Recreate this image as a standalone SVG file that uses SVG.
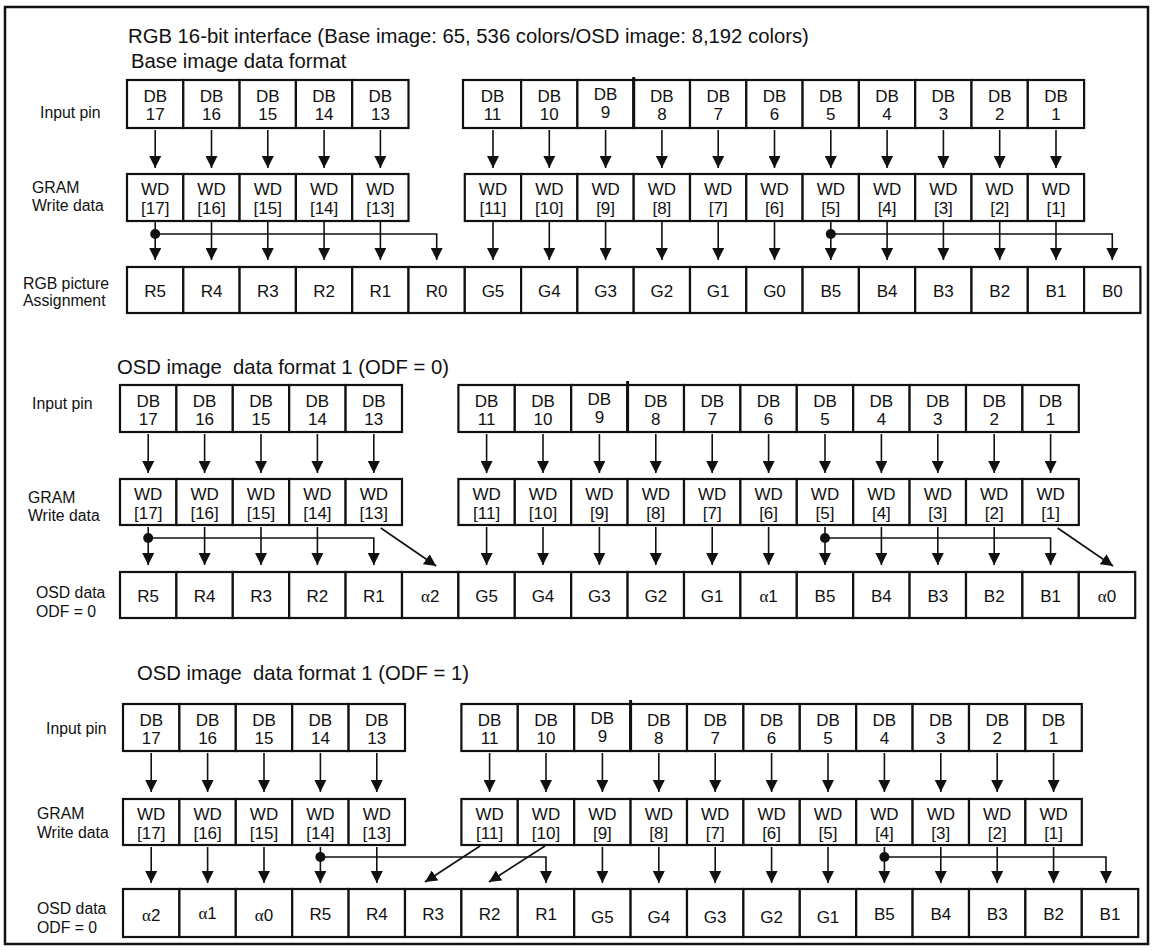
<svg xmlns="http://www.w3.org/2000/svg" width="1155" height="950" viewBox="0 0 1155 950">
<style>
text{font-family:"Liberation Sans",Arial,sans-serif;fill:#111}
.ttl{font-size:20.3px}
.lbl{font-size:15.8px}
.cell rect{fill:#fff;stroke:#111;stroke-width:2.2}
.cell text{font-size:17px;text-anchor:middle}
.a{font-family:"Liberation Serif","Times New Roman",serif}
.ar{fill:none;stroke:#111;stroke-width:1.6;marker-end:url(#ah)}
.dot{fill:#111}
.thk{stroke:#111;stroke-width:3}
</style>
<defs>
<marker id="ah" markerUnits="userSpaceOnUse" viewBox="0 0 12 12" markerWidth="12" markerHeight="12" refX="12" refY="6" orient="auto"><path d="M0,0 L12,6 L0,12 z" fill="#111"/></marker>
</defs>
<rect x="5" y="7" width="1143" height="937" fill="#fff" stroke="#111" stroke-width="2.5"/>

<g id="titles">
<text class="ttl" x="128" y="43">RGB 16-bit interface (Base image: 65, 536 colors/OSD image: 8,192 colors)</text>
<text class="ttl" x="131" y="68">Base image data format</text>
<text class="ttl" x="117" y="374" xml:space="preserve">OSD image  data format 1 (ODF = 0)</text>
<text class="ttl" x="137" y="680" xml:space="preserve">OSD image  data format 1 (ODF = 1)</text>
</g>
<g id="labels">
<text class="lbl" x="40" y="118">Input pin</text>
<text class="lbl" x="32" y="193">GRAM</text>
<text class="lbl" x="32" y="211">Write data</text>
<text class="lbl" x="23" y="289">RGB picture</text>
<text class="lbl" x="23" y="306">Assignment</text>
<text class="lbl" x="32" y="409">Input pin</text>
<text class="lbl" x="28" y="503">GRAM</text>
<text class="lbl" x="28" y="521">Write data</text>
<text class="lbl" x="36" y="598">OSD data</text>
<text class="lbl" x="36" y="617">ODF = 0</text>
<text class="lbl" x="46" y="734">Input pin</text>
<text class="lbl" x="37" y="819">GRAM</text>
<text class="lbl" x="37" y="838">Write data</text>
<text class="lbl" x="37" y="914">OSD data</text>
<text class="lbl" x="37" y="933">ODF = 0</text>
</g>

<!-- Section 1 -->
<g id="s1-input" class="cell">
<g id="s1-db17" transform="translate(127,80)"><rect width="56.3" height="48"/><text x="28.2" y="22">DB<tspan x="28.2" y="40">17</tspan></text></g>
<g id="s1-db16" transform="translate(183.3,80)"><rect width="56.3" height="48"/><text x="28.2" y="22">DB<tspan x="28.2" y="40">16</tspan></text></g>
<g id="s1-db15" transform="translate(239.6,80)"><rect width="56.3" height="48"/><text x="28.2" y="22">DB<tspan x="28.2" y="40">15</tspan></text></g>
<g id="s1-db14" transform="translate(295.9,80)"><rect width="56.3" height="48"/><text x="28.2" y="22">DB<tspan x="28.2" y="40">14</tspan></text></g>
<g id="s1-db13" transform="translate(352.2,80)"><rect width="56.3" height="48"/><text x="28.2" y="22">DB<tspan x="28.2" y="40">13</tspan></text></g>
<g id="s1-db11" transform="translate(463,80)"><rect width="58.1" height="48"/><text x="29.5" y="22">DB<tspan x="29.5" y="40">11</tspan></text></g>
<g id="s1-db10" transform="translate(521.1,80)"><rect width="56.3" height="48"/><text x="28.2" y="22">DB<tspan x="28.2" y="40">10</tspan></text></g>
<g id="s1-db9" transform="translate(577.4,80)"><rect width="56.3" height="48"/><text x="28.2" y="20">DB<tspan x="28.2" y="38">9</tspan></text></g>
<g id="s1-db8" transform="translate(633.7,80)"><rect width="56.3" height="48"/><text x="28.2" y="22">DB<tspan x="28.2" y="40">8</tspan></text></g>
<g id="s1-db7" transform="translate(690,80)"><rect width="56.3" height="48"/><text x="28.2" y="22">DB<tspan x="28.2" y="40">7</tspan></text></g>
<g id="s1-db6" transform="translate(746.3,80)"><rect width="56.3" height="48"/><text x="28.2" y="22">DB<tspan x="28.2" y="40">6</tspan></text></g>
<g id="s1-db5" transform="translate(802.6,80)"><rect width="56.3" height="48"/><text x="28.2" y="22">DB<tspan x="28.2" y="40">5</tspan></text></g>
<g id="s1-db4" transform="translate(858.9,80)"><rect width="56.3" height="48"/><text x="28.2" y="22">DB<tspan x="28.2" y="40">4</tspan></text></g>
<g id="s1-db3" transform="translate(915.2,80)"><rect width="56.3" height="48"/><text x="28.2" y="22">DB<tspan x="28.2" y="40">3</tspan></text></g>
<g id="s1-db2" transform="translate(971.5,80)"><rect width="56.3" height="48"/><text x="28.2" y="22">DB<tspan x="28.2" y="40">2</tspan></text></g>
<g id="s1-db1" transform="translate(1027.8,80)"><rect width="56.3" height="48"/><text x="28.2" y="22">DB<tspan x="28.2" y="40">1</tspan></text></g>
<line class="thk" x1="633.7" y1="77" x2="633.7" y2="128"/>
</g>
<g id="s1-gram" class="cell">
<g id="s1-wd17" transform="translate(127,174)"><rect width="56.3" height="47"/><text x="28.2" y="21">WD<tspan x="28.2" y="40">[17]</tspan></text></g>
<g id="s1-wd16" transform="translate(183.3,174)"><rect width="56.3" height="47"/><text x="28.2" y="21">WD<tspan x="28.2" y="40">[16]</tspan></text></g>
<g id="s1-wd15" transform="translate(239.6,174)"><rect width="56.3" height="47"/><text x="28.2" y="21">WD<tspan x="28.2" y="40">[15]</tspan></text></g>
<g id="s1-wd14" transform="translate(295.9,174)"><rect width="56.3" height="47"/><text x="28.2" y="21">WD<tspan x="28.2" y="40">[14]</tspan></text></g>
<g id="s1-wd13" transform="translate(352.2,174)"><rect width="56.3" height="47"/><text x="28.2" y="21">WD<tspan x="28.2" y="40">[13]</tspan></text></g>
<g id="s1-wd11" transform="translate(464.8,174)"><rect width="56.3" height="47"/><text x="28.2" y="21">WD<tspan x="28.2" y="40">[11]</tspan></text></g>
<g id="s1-wd10" transform="translate(521.1,174)"><rect width="56.3" height="47"/><text x="28.2" y="21">WD<tspan x="28.2" y="40">[10]</tspan></text></g>
<g id="s1-wd9" transform="translate(577.4,174)"><rect width="56.3" height="47"/><text x="28.2" y="21">WD<tspan x="28.2" y="40">[9]</tspan></text></g>
<g id="s1-wd8" transform="translate(633.7,174)"><rect width="56.3" height="47"/><text x="28.2" y="21">WD<tspan x="28.2" y="40">[8]</tspan></text></g>
<g id="s1-wd7" transform="translate(690,174)"><rect width="56.3" height="47"/><text x="28.2" y="21">WD<tspan x="28.2" y="40">[7]</tspan></text></g>
<g id="s1-wd6" transform="translate(746.3,174)"><rect width="56.3" height="47"/><text x="28.2" y="21">WD<tspan x="28.2" y="40">[6]</tspan></text></g>
<g id="s1-wd5" transform="translate(802.6,174)"><rect width="56.3" height="47"/><text x="28.2" y="21">WD<tspan x="28.2" y="40">[5]</tspan></text></g>
<g id="s1-wd4" transform="translate(858.9,174)"><rect width="56.3" height="47"/><text x="28.2" y="21">WD<tspan x="28.2" y="40">[4]</tspan></text></g>
<g id="s1-wd3" transform="translate(915.2,174)"><rect width="56.3" height="47"/><text x="28.2" y="21">WD<tspan x="28.2" y="40">[3]</tspan></text></g>
<g id="s1-wd2" transform="translate(971.5,174)"><rect width="56.3" height="47"/><text x="28.2" y="21">WD<tspan x="28.2" y="40">[2]</tspan></text></g>
<g id="s1-wd1" transform="translate(1027.8,174)"><rect width="56.3" height="47"/><text x="28.2" y="21">WD<tspan x="28.2" y="40">[1]</tspan></text></g>
</g>
<g id="s1-rgb" class="cell">
<g id="s1-r5" transform="translate(127,267)"><rect width="56.3" height="46"/><text x="28.2" y="30">R5</text></g>
<g id="s1-r4" transform="translate(183.3,267)"><rect width="56.3" height="46"/><text x="28.2" y="30">R4</text></g>
<g id="s1-r3" transform="translate(239.6,267)"><rect width="56.3" height="46"/><text x="28.2" y="30">R3</text></g>
<g id="s1-r2" transform="translate(295.9,267)"><rect width="56.3" height="46"/><text x="28.2" y="30">R2</text></g>
<g id="s1-r1" transform="translate(352.2,267)"><rect width="56.3" height="46"/><text x="28.2" y="30">R1</text></g>
<g id="s1-r0" transform="translate(408.5,267)"><rect width="56.3" height="46"/><text x="28.2" y="30">R0</text></g>
<g id="s1-g5" transform="translate(464.8,267)"><rect width="56.3" height="46"/><text x="28.2" y="30">G5</text></g>
<g id="s1-g4" transform="translate(521.1,267)"><rect width="56.3" height="46"/><text x="28.2" y="30">G4</text></g>
<g id="s1-g3" transform="translate(577.4,267)"><rect width="56.3" height="46"/><text x="28.2" y="30">G3</text></g>
<g id="s1-g2" transform="translate(633.7,267)"><rect width="56.3" height="46"/><text x="28.2" y="30">G2</text></g>
<g id="s1-g1" transform="translate(690,267)"><rect width="56.3" height="46"/><text x="28.2" y="30">G1</text></g>
<g id="s1-g0" transform="translate(746.3,267)"><rect width="56.3" height="46"/><text x="28.2" y="30">G0</text></g>
<g id="s1-b5" transform="translate(802.6,267)"><rect width="56.3" height="46"/><text x="28.2" y="30">B5</text></g>
<g id="s1-b4" transform="translate(858.9,267)"><rect width="56.3" height="46"/><text x="28.2" y="30">B4</text></g>
<g id="s1-b3" transform="translate(915.2,267)"><rect width="56.3" height="46"/><text x="28.2" y="30">B3</text></g>
<g id="s1-b2" transform="translate(971.5,267)"><rect width="56.3" height="46"/><text x="28.2" y="30">B2</text></g>
<g id="s1-b1" transform="translate(1027.8,267)"><rect width="56.3" height="46"/><text x="28.2" y="30">B1</text></g>
<g id="s1-b0" transform="translate(1084.1,267)"><rect width="56.3" height="46"/><text x="28.2" y="30">B0</text></g>
</g>

<!-- Section 2 -->
<g id="s2-input" class="cell">
<g id="s2-db17" transform="translate(120,385)"><rect width="56.4" height="47"/><text x="28.2" y="22">DB<tspan x="28.2" y="40">17</tspan></text></g>
<g id="s2-db16" transform="translate(176.4,385)"><rect width="56.4" height="47"/><text x="28.2" y="22">DB<tspan x="28.2" y="40">16</tspan></text></g>
<g id="s2-db15" transform="translate(232.8,385)"><rect width="56.4" height="47"/><text x="28.2" y="22">DB<tspan x="28.2" y="40">15</tspan></text></g>
<g id="s2-db14" transform="translate(289.2,385)"><rect width="56.4" height="47"/><text x="28.2" y="22">DB<tspan x="28.2" y="40">14</tspan></text></g>
<g id="s2-db13" transform="translate(345.6,385)"><rect width="56.4" height="47"/><text x="28.2" y="22">DB<tspan x="28.2" y="40">13</tspan></text></g>
<g id="s2-db11" transform="translate(458.4,385)"><rect width="56.4" height="47"/><text x="28.2" y="22">DB<tspan x="28.2" y="40">11</tspan></text></g>
<g id="s2-db10" transform="translate(514.8,385)"><rect width="56.4" height="47"/><text x="28.2" y="22">DB<tspan x="28.2" y="40">10</tspan></text></g>
<g id="s2-db9" transform="translate(571.2,385)"><rect width="56.4" height="47"/><text x="28.2" y="20">DB<tspan x="28.2" y="38">9</tspan></text></g>
<g id="s2-db8" transform="translate(627.6,385)"><rect width="56.4" height="47"/><text x="28.2" y="22">DB<tspan x="28.2" y="40">8</tspan></text></g>
<g id="s2-db7" transform="translate(684,385)"><rect width="56.4" height="47"/><text x="28.2" y="22">DB<tspan x="28.2" y="40">7</tspan></text></g>
<g id="s2-db6" transform="translate(740.4,385)"><rect width="56.4" height="47"/><text x="28.2" y="22">DB<tspan x="28.2" y="40">6</tspan></text></g>
<g id="s2-db5" transform="translate(796.8,385)"><rect width="56.4" height="47"/><text x="28.2" y="22">DB<tspan x="28.2" y="40">5</tspan></text></g>
<g id="s2-db4" transform="translate(853.2,385)"><rect width="56.4" height="47"/><text x="28.2" y="22">DB<tspan x="28.2" y="40">4</tspan></text></g>
<g id="s2-db3" transform="translate(909.6,385)"><rect width="56.4" height="47"/><text x="28.2" y="22">DB<tspan x="28.2" y="40">3</tspan></text></g>
<g id="s2-db2" transform="translate(966,385)"><rect width="56.4" height="47"/><text x="28.2" y="22">DB<tspan x="28.2" y="40">2</tspan></text></g>
<g id="s2-db1" transform="translate(1022.4,385)"><rect width="56.4" height="47"/><text x="28.2" y="22">DB<tspan x="28.2" y="40">1</tspan></text></g>
<line class="thk" x1="627.6" y1="381" x2="627.6" y2="432"/>
</g>
<g id="s2-gram" class="cell">
<g id="s2-wd17" transform="translate(120,479)"><rect width="56.4" height="46"/><text x="28.2" y="21">WD<tspan x="28.2" y="40">[17]</tspan></text></g>
<g id="s2-wd16" transform="translate(176.4,479)"><rect width="56.4" height="46"/><text x="28.2" y="21">WD<tspan x="28.2" y="40">[16]</tspan></text></g>
<g id="s2-wd15" transform="translate(232.8,479)"><rect width="56.4" height="46"/><text x="28.2" y="21">WD<tspan x="28.2" y="40">[15]</tspan></text></g>
<g id="s2-wd14" transform="translate(289.2,479)"><rect width="56.4" height="46"/><text x="28.2" y="21">WD<tspan x="28.2" y="40">[14]</tspan></text></g>
<g id="s2-wd13" transform="translate(345.6,479)"><rect width="56.4" height="46"/><text x="28.2" y="21">WD<tspan x="28.2" y="40">[13]</tspan></text></g>
<g id="s2-wd11" transform="translate(458.4,479)"><rect width="56.4" height="46"/><text x="28.2" y="21">WD<tspan x="28.2" y="40">[11]</tspan></text></g>
<g id="s2-wd10" transform="translate(514.8,479)"><rect width="56.4" height="46"/><text x="28.2" y="21">WD<tspan x="28.2" y="40">[10]</tspan></text></g>
<g id="s2-wd9" transform="translate(571.2,479)"><rect width="56.4" height="46"/><text x="28.2" y="21">WD<tspan x="28.2" y="40">[9]</tspan></text></g>
<g id="s2-wd8" transform="translate(627.6,479)"><rect width="56.4" height="46"/><text x="28.2" y="21">WD<tspan x="28.2" y="40">[8]</tspan></text></g>
<g id="s2-wd7" transform="translate(684,479)"><rect width="56.4" height="46"/><text x="28.2" y="21">WD<tspan x="28.2" y="40">[7]</tspan></text></g>
<g id="s2-wd6" transform="translate(740.4,479)"><rect width="56.4" height="46"/><text x="28.2" y="21">WD<tspan x="28.2" y="40">[6]</tspan></text></g>
<g id="s2-wd5" transform="translate(796.8,479)"><rect width="56.4" height="46"/><text x="28.2" y="21">WD<tspan x="28.2" y="40">[5]</tspan></text></g>
<g id="s2-wd4" transform="translate(853.2,479)"><rect width="56.4" height="46"/><text x="28.2" y="21">WD<tspan x="28.2" y="40">[4]</tspan></text></g>
<g id="s2-wd3" transform="translate(909.6,479)"><rect width="56.4" height="46"/><text x="28.2" y="21">WD<tspan x="28.2" y="40">[3]</tspan></text></g>
<g id="s2-wd2" transform="translate(966,479)"><rect width="56.4" height="46"/><text x="28.2" y="21">WD<tspan x="28.2" y="40">[2]</tspan></text></g>
<g id="s2-wd1" transform="translate(1022.4,479)"><rect width="56.4" height="46"/><text x="28.2" y="21">WD<tspan x="28.2" y="40">[1]</tspan></text></g>
</g>
<g id="s2-osd" class="cell">
<g id="s2-r5" transform="translate(120,572)"><rect width="56.4" height="46"/><text x="28.2" y="30">R5</text></g>
<g id="s2-r4" transform="translate(176.4,572)"><rect width="56.4" height="46"/><text x="28.2" y="30">R4</text></g>
<g id="s2-r3" transform="translate(232.8,572)"><rect width="56.4" height="46"/><text x="28.2" y="30">R3</text></g>
<g id="s2-r2" transform="translate(289.2,572)"><rect width="56.4" height="46"/><text x="28.2" y="30">R2</text></g>
<g id="s2-r1" transform="translate(345.6,572)"><rect width="56.4" height="46"/><text x="28.2" y="30">R1</text></g>
<g id="s2-a2" transform="translate(402,572)"><rect width="56.4" height="46"/><text x="28.2" y="30"><tspan class="a">α</tspan>2</text></g>
<g id="s2-g5" transform="translate(458.4,572)"><rect width="56.4" height="46"/><text x="28.2" y="30">G5</text></g>
<g id="s2-g4" transform="translate(514.8,572)"><rect width="56.4" height="46"/><text x="28.2" y="30">G4</text></g>
<g id="s2-g3" transform="translate(571.2,572)"><rect width="56.4" height="46"/><text x="28.2" y="30">G3</text></g>
<g id="s2-g2" transform="translate(627.6,572)"><rect width="56.4" height="46"/><text x="28.2" y="30">G2</text></g>
<g id="s2-g1" transform="translate(684,572)"><rect width="56.4" height="46"/><text x="28.2" y="30">G1</text></g>
<g id="s2-a1" transform="translate(740.4,572)"><rect width="56.4" height="46"/><text x="28.2" y="30"><tspan class="a">α</tspan>1</text></g>
<g id="s2-b5" transform="translate(796.8,572)"><rect width="56.4" height="46"/><text x="28.2" y="30">B5</text></g>
<g id="s2-b4" transform="translate(853.2,572)"><rect width="56.4" height="46"/><text x="28.2" y="30">B4</text></g>
<g id="s2-b3" transform="translate(909.6,572)"><rect width="56.4" height="46"/><text x="28.2" y="30">B3</text></g>
<g id="s2-b2" transform="translate(966,572)"><rect width="56.4" height="46"/><text x="28.2" y="30">B2</text></g>
<g id="s2-b1" transform="translate(1022.4,572)"><rect width="56.4" height="46"/><text x="28.2" y="30">B1</text></g>
<g id="s2-a0" transform="translate(1078.8,572)"><rect width="56.4" height="46"/><text x="28.2" y="30"><tspan class="a">α</tspan>0</text></g>
</g>

<!-- Section 3 -->
<g id="s3-input" class="cell">
<g id="s3-db17" transform="translate(123,704)"><rect width="56.4" height="47"/><text x="28.2" y="22">DB<tspan x="28.2" y="40">17</tspan></text></g>
<g id="s3-db16" transform="translate(179.4,704)"><rect width="56.4" height="47"/><text x="28.2" y="22">DB<tspan x="28.2" y="40">16</tspan></text></g>
<g id="s3-db15" transform="translate(235.8,704)"><rect width="56.4" height="47"/><text x="28.2" y="22">DB<tspan x="28.2" y="40">15</tspan></text></g>
<g id="s3-db14" transform="translate(292.2,704)"><rect width="56.4" height="47"/><text x="28.2" y="22">DB<tspan x="28.2" y="40">14</tspan></text></g>
<g id="s3-db13" transform="translate(348.6,704)"><rect width="56.4" height="47"/><text x="28.2" y="22">DB<tspan x="28.2" y="40">13</tspan></text></g>
<g id="s3-db11" transform="translate(461.4,704)"><rect width="56.4" height="47"/><text x="28.2" y="22">DB<tspan x="28.2" y="40">11</tspan></text></g>
<g id="s3-db10" transform="translate(517.8,704)"><rect width="56.4" height="47"/><text x="28.2" y="22">DB<tspan x="28.2" y="40">10</tspan></text></g>
<g id="s3-db9" transform="translate(574.2,704)"><rect width="56.4" height="47"/><text x="28.2" y="20">DB<tspan x="28.2" y="38">9</tspan></text></g>
<g id="s3-db8" transform="translate(630.6,704)"><rect width="56.4" height="47"/><text x="28.2" y="22">DB<tspan x="28.2" y="40">8</tspan></text></g>
<g id="s3-db7" transform="translate(687,704)"><rect width="56.4" height="47"/><text x="28.2" y="22">DB<tspan x="28.2" y="40">7</tspan></text></g>
<g id="s3-db6" transform="translate(743.4,704)"><rect width="56.4" height="47"/><text x="28.2" y="22">DB<tspan x="28.2" y="40">6</tspan></text></g>
<g id="s3-db5" transform="translate(799.8,704)"><rect width="56.4" height="47"/><text x="28.2" y="22">DB<tspan x="28.2" y="40">5</tspan></text></g>
<g id="s3-db4" transform="translate(856.2,704)"><rect width="56.4" height="47"/><text x="28.2" y="22">DB<tspan x="28.2" y="40">4</tspan></text></g>
<g id="s3-db3" transform="translate(912.6,704)"><rect width="56.4" height="47"/><text x="28.2" y="22">DB<tspan x="28.2" y="40">3</tspan></text></g>
<g id="s3-db2" transform="translate(969,704)"><rect width="56.4" height="47"/><text x="28.2" y="22">DB<tspan x="28.2" y="40">2</tspan></text></g>
<g id="s3-db1" transform="translate(1025.4,704)"><rect width="56.4" height="47"/><text x="28.2" y="22">DB<tspan x="28.2" y="40">1</tspan></text></g>
<line class="thk" x1="630.6" y1="700" x2="630.6" y2="751"/>
</g>
<g id="s3-gram" class="cell">
<g id="s3-wd17" transform="translate(123,799)"><rect width="56.4" height="46"/><text x="28.2" y="21">WD<tspan x="28.2" y="40">[17]</tspan></text></g>
<g id="s3-wd16" transform="translate(179.4,799)"><rect width="56.4" height="46"/><text x="28.2" y="21">WD<tspan x="28.2" y="40">[16]</tspan></text></g>
<g id="s3-wd15" transform="translate(235.8,799)"><rect width="56.4" height="46"/><text x="28.2" y="21">WD<tspan x="28.2" y="40">[15]</tspan></text></g>
<g id="s3-wd14" transform="translate(292.2,799)"><rect width="56.4" height="46"/><text x="28.2" y="21">WD<tspan x="28.2" y="40">[14]</tspan></text></g>
<g id="s3-wd13" transform="translate(348.6,799)"><rect width="56.4" height="46"/><text x="28.2" y="21">WD<tspan x="28.2" y="40">[13]</tspan></text></g>
<g id="s3-wd11" transform="translate(461.4,799)"><rect width="56.4" height="46"/><text x="28.2" y="21">WD<tspan x="28.2" y="40">[11]</tspan></text></g>
<g id="s3-wd10" transform="translate(517.8,799)"><rect width="56.4" height="46"/><text x="28.2" y="21">WD<tspan x="28.2" y="40">[10]</tspan></text></g>
<g id="s3-wd9" transform="translate(574.2,799)"><rect width="56.4" height="46"/><text x="28.2" y="21">WD<tspan x="28.2" y="40">[9]</tspan></text></g>
<g id="s3-wd8" transform="translate(630.6,799)"><rect width="56.4" height="46"/><text x="28.2" y="21">WD<tspan x="28.2" y="40">[8]</tspan></text></g>
<g id="s3-wd7" transform="translate(687,799)"><rect width="56.4" height="46"/><text x="28.2" y="21">WD<tspan x="28.2" y="40">[7]</tspan></text></g>
<g id="s3-wd6" transform="translate(743.4,799)"><rect width="56.4" height="46"/><text x="28.2" y="21">WD<tspan x="28.2" y="40">[6]</tspan></text></g>
<g id="s3-wd5" transform="translate(799.8,799)"><rect width="56.4" height="46"/><text x="28.2" y="21">WD<tspan x="28.2" y="40">[5]</tspan></text></g>
<g id="s3-wd4" transform="translate(856.2,799)"><rect width="56.4" height="46"/><text x="28.2" y="21">WD<tspan x="28.2" y="40">[4]</tspan></text></g>
<g id="s3-wd3" transform="translate(912.6,799)"><rect width="56.4" height="46"/><text x="28.2" y="21">WD<tspan x="28.2" y="40">[3]</tspan></text></g>
<g id="s3-wd2" transform="translate(969,799)"><rect width="56.4" height="46"/><text x="28.2" y="21">WD<tspan x="28.2" y="40">[2]</tspan></text></g>
<g id="s3-wd1" transform="translate(1025.4,799)"><rect width="56.4" height="46"/><text x="28.2" y="21">WD<tspan x="28.2" y="40">[1]</tspan></text></g>
</g>
<g id="s3-osd" class="cell">
<g id="s3-a2" transform="translate(123,889)"><rect width="56.4" height="48"/><text x="28.2" y="32"><tspan class="a">α</tspan>2</text></g>
<g id="s3-a1" transform="translate(179.4,889)"><rect width="56.4" height="48"/><text x="28.2" y="30"><tspan class="a">α</tspan>1</text></g>
<g id="s3-a0" transform="translate(235.8,889)"><rect width="56.4" height="48"/><text x="28.2" y="32"><tspan class="a">α</tspan>0</text></g>
<g id="s3-r5" transform="translate(292.2,889)"><rect width="56.4" height="48"/><text x="28.2" y="31">R5</text></g>
<g id="s3-r4" transform="translate(348.6,889)"><rect width="56.4" height="48"/><text x="28.2" y="31">R4</text></g>
<g id="s3-r3" transform="translate(405,889)"><rect width="56.4" height="48"/><text x="28.2" y="31">R3</text></g>
<g id="s3-r2" transform="translate(461.4,889)"><rect width="56.4" height="48"/><text x="28.2" y="31">R2</text></g>
<g id="s3-r1" transform="translate(517.8,889)"><rect width="56.4" height="48"/><text x="28.2" y="31">R1</text></g>
<g id="s3-g5" transform="translate(574.2,889)"><rect width="56.4" height="48"/><text x="28.2" y="34">G5</text></g>
<g id="s3-g4" transform="translate(630.6,889)"><rect width="56.4" height="48"/><text x="28.2" y="34">G4</text></g>
<g id="s3-g3" transform="translate(687,889)"><rect width="56.4" height="48"/><text x="28.2" y="34">G3</text></g>
<g id="s3-g2" transform="translate(743.4,889)"><rect width="56.4" height="48"/><text x="28.2" y="34">G2</text></g>
<g id="s3-g1" transform="translate(799.8,889)"><rect width="56.4" height="48"/><text x="28.2" y="34">G1</text></g>
<g id="s3-b5" transform="translate(856.2,889)"><rect width="56.4" height="48"/><text x="28.2" y="31">B5</text></g>
<g id="s3-b4" transform="translate(912.6,889)"><rect width="56.4" height="48"/><text x="28.2" y="31">B4</text></g>
<g id="s3-b3" transform="translate(969,889)"><rect width="56.4" height="48"/><text x="28.2" y="31">B3</text></g>
<g id="s3-b2" transform="translate(1025.4,889)"><rect width="56.4" height="48"/><text x="28.2" y="31">B2</text></g>
<g id="s3-b1" transform="translate(1081.8,889)"><rect width="56.4" height="48"/><text x="28.2" y="31">B1</text></g>
</g>

<g id="connectors">
<!-- S1 input to GRAM -->
<path class="ar" d="M155.2,130V168"/><path class="ar" d="M211.5,130V168"/><path class="ar" d="M267.8,130V168"/><path class="ar" d="M324.1,130V168"/><path class="ar" d="M380.4,130V168"/>
<path class="ar" d="M493,130V168"/><path class="ar" d="M549.3,130V168"/><path class="ar" d="M605.6,130V168"/><path class="ar" d="M661.9,130V168"/><path class="ar" d="M718.2,130V168"/><path class="ar" d="M774.5,130V168"/><path class="ar" d="M830.8,130V168"/><path class="ar" d="M887.1,130V168"/><path class="ar" d="M943.4,130V168"/><path class="ar" d="M999.7,130V168"/><path class="ar" d="M1056,130V168"/>
<!-- S1 GRAM to RGB -->
<path class="ar" d="M155.2,222V260"/><path class="ar" d="M211.5,222V260"/><path class="ar" d="M267.8,222V260"/><path class="ar" d="M324.1,222V260"/><path class="ar" d="M380.4,222V260"/>
<path class="ar" d="M493,222V260"/><path class="ar" d="M549.3,222V260"/><path class="ar" d="M605.6,222V260"/><path class="ar" d="M661.9,222V260"/><path class="ar" d="M718.2,222V260"/><path class="ar" d="M774.5,222V260"/><path class="ar" d="M830.8,222V260"/><path class="ar" d="M887.1,222V260"/><path class="ar" d="M943.4,222V260"/><path class="ar" d="M999.7,222V260"/><path class="ar" d="M1056,222V260"/>
<path class="ar" d="M155.2,234H436.7V260"/><circle class="dot" cx="155.2" cy="234" r="5"/>
<path class="ar" d="M830.8,234H1112.3V260"/><circle class="dot" cx="830.8" cy="234" r="5"/>

<!-- S2 input to GRAM -->
<path class="ar" d="M148.2,434V473"/><path class="ar" d="M204.6,434V473"/><path class="ar" d="M261,434V473"/><path class="ar" d="M317.4,434V473"/><path class="ar" d="M373.8,434V473"/>
<path class="ar" d="M486.6,434V473"/><path class="ar" d="M543,434V473"/><path class="ar" d="M599.4,434V473"/><path class="ar" d="M655.8,434V473"/><path class="ar" d="M712.2,434V473"/><path class="ar" d="M768.6,434V473"/><path class="ar" d="M825,434V473"/><path class="ar" d="M881.4,434V473"/><path class="ar" d="M937.8,434V473"/><path class="ar" d="M994.2,434V473"/><path class="ar" d="M1050.6,434V473"/>
<!-- S2 GRAM to OSD -->
<path class="ar" d="M148.2,527V565"/><path class="ar" d="M204.6,527V565"/><path class="ar" d="M261,527V565"/><path class="ar" d="M317.4,527V565"/>
<path class="ar" d="M380.8,528L436.2,566"/>
<path class="ar" d="M486.6,527V565"/><path class="ar" d="M543,527V565"/><path class="ar" d="M599.4,527V565"/><path class="ar" d="M655.8,527V565"/><path class="ar" d="M712.2,527V565"/><path class="ar" d="M768.6,527V565"/><path class="ar" d="M825,527V565"/><path class="ar" d="M881.4,527V565"/><path class="ar" d="M937.8,527V565"/><path class="ar" d="M994.2,527V565"/>
<path class="ar" d="M1057.6,528L1113,566"/>
<path class="ar" d="M148.2,538H373.8V565"/><circle class="dot" cx="148.2" cy="538" r="5"/>
<path class="ar" d="M825,538H1050.6V565"/><circle class="dot" cx="825" cy="538" r="5"/>

<!-- S3 input to GRAM -->
<path class="ar" d="M151.2,753V792"/><path class="ar" d="M207.6,753V792"/><path class="ar" d="M264,753V792"/><path class="ar" d="M320.4,753V792"/><path class="ar" d="M376.8,753V792"/>
<path class="ar" d="M489.6,753V792"/><path class="ar" d="M546,753V792"/><path class="ar" d="M602.4,753V792"/><path class="ar" d="M658.8,753V792"/><path class="ar" d="M715.2,753V792"/><path class="ar" d="M771.6,753V792"/><path class="ar" d="M828,753V792"/><path class="ar" d="M884.4,753V792"/><path class="ar" d="M940.8,753V792"/><path class="ar" d="M997.2,753V792"/><path class="ar" d="M1053.6,753V792"/>
<!-- S3 GRAM to OSD -->
<path class="ar" d="M151.2,847V883"/><path class="ar" d="M207.6,847V883"/><path class="ar" d="M264,847V883"/><path class="ar" d="M320.4,847V883"/><path class="ar" d="M376.8,847V883"/>
<path class="ar" d="M480,846L425,882"/><path class="ar" d="M545,846L489,882"/>
<path class="ar" d="M602.4,847V883"/><path class="ar" d="M658.8,847V883"/><path class="ar" d="M715.2,847V883"/><path class="ar" d="M771.6,847V883"/><path class="ar" d="M828,847V883"/><path class="ar" d="M884.4,847V883"/><path class="ar" d="M940.8,847V883"/><path class="ar" d="M997.2,847V883"/><path class="ar" d="M1053.6,847V883"/>
<path class="ar" d="M320.4,857H546V883"/><circle class="dot" cx="320.4" cy="857" r="5"/>
<path class="ar" d="M884.4,857H1106V883"/><circle class="dot" cx="884.4" cy="857" r="5"/>
</g>
</svg>
